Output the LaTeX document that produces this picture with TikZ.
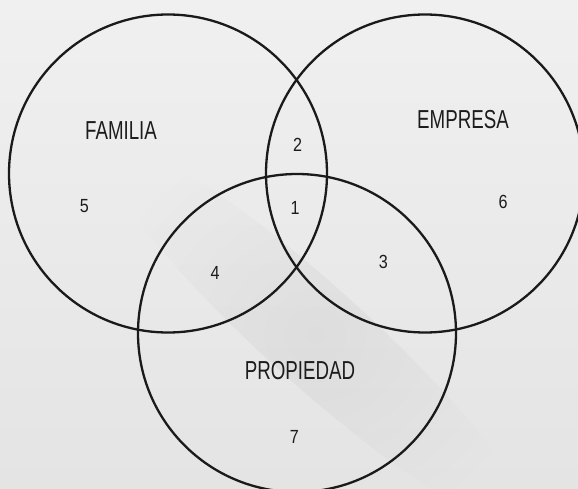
\documentclass[tikz,border=0pt]{standalone}
\usepackage{fontspec}
\setmainfont{Liberation Sans}
\usetikzlibrary{fadings}
\definecolor{bgtop}{RGB}{240,240,240}
\definecolor{bgbot}{RGB}{228,228,228}
\definecolor{ink}{RGB}{26,26,26}
\definecolor{txt}{RGB}{28,28,28}
\tikzfading[name=softspot, inner color=transparent!0, outer color=transparent!100]
\tikzset{
  venn/.style={circle, draw=ink, line width=2.3pt, minimum size=318pt, inner sep=0pt},
  setlabel/.style={text=txt, inner sep=0pt, font=\fontsize{26pt}{26pt}\selectfont},
  numlabel/.style={text=txt, inner sep=0pt, font=\fontsize{19pt}{19pt}\selectfont}
}
\newcommand{\cond}[1]{\scalebox{0.72}[1]{#1}}
\newcommand{\condn}[1]{\scalebox{0.85}[1]{#1}}
\begin{document}
\begin{tikzpicture}[x=1pt, y=-1pt]
  \useasboundingbox (0,0) rectangle (578,489);
  \clip (0,0) rectangle (578,489);
  \shade[top color=bgtop, bottom color=bgbot] (0,0) rectangle (578,489);
  % soft diagonal streak
  \begin{scope}[shift={(315,335)}, rotate=-42]
    \fill[black, opacity=0.045, path fading=softspot] (0,0) ellipse [x radius=280pt, y radius=50pt];
  \end{scope}
  \node[venn] (fam) at (168,173.5) {};
  \node[venn] (emp) at (425,173.5) {};
  \node[venn] (pro) at (297,333) {};
  \node[setlabel] (lfam) at (121,131) {\cond{FAMILIA}};
  \node[setlabel] (lemp) at (463,119.7) {\cond{EMPRESA}};
  \node[setlabel] (lpro) at (300,370.3) {\cond{PROPIEDAD}};
  \node[numlabel] (n2) at (297.5,145) {\condn{2}};
  \node[numlabel] (n1) at (295,207.7) {\condn{1}};
  \node[numlabel] (n5) at (84.3,206) {\condn{5}};
  \node[numlabel] (n6) at (503,201.7) {\condn{6}};
  \node[numlabel] (n3) at (383.3,261.7) {\condn{3}};
  \node[numlabel] (n4) at (215,272.7) {\condn{4}};
  \node[numlabel] (n7) at (294.3,437.3) {\condn{7}};
\end{tikzpicture}
\end{document}
